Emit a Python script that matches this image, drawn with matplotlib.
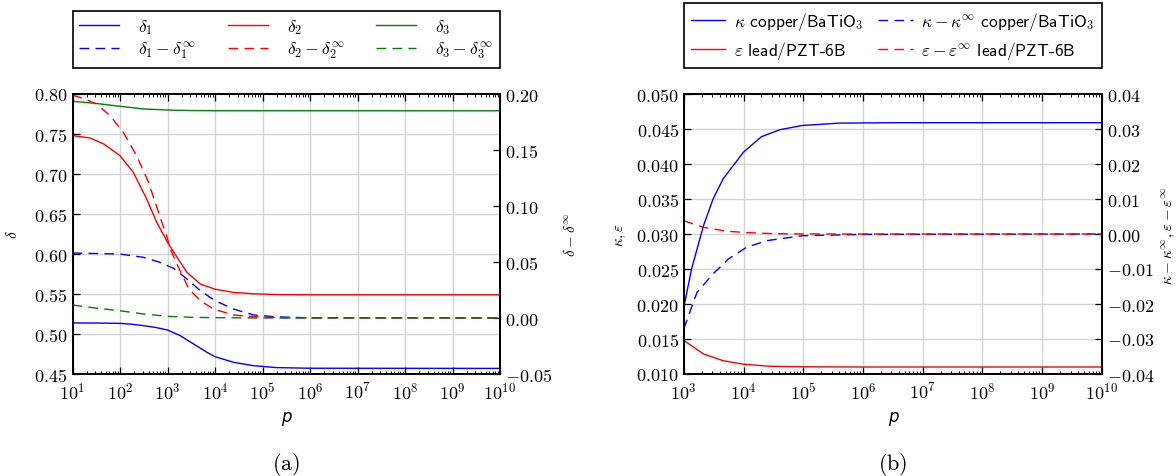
import numpy as np
import matplotlib
matplotlib.use("Agg")
import matplotlib.pyplot as plt
from matplotlib.ticker import FixedLocator, LogLocator, FuncFormatter, NullFormatter

plt.rcParams['font.family'] = ['cmss10', 'DejaVu Sans']
plt.rcParams['mathtext.fontset'] = 'cm'
plt.rcParams['axes.unicode_minus'] = True

# ---- panel (a): values read at log10(p) positions ----
lp_d1 = [1.0, 1.5, 2.0, 2.25, 2.5, 2.75, 3.0, 3.27, 3.55, 3.83, 4.0, 4.39, 4.81, 5.3, 6.0, 10.0]
d1 = [0.5138, 0.5137, 0.5133, 0.5122, 0.5104, 0.5082, 0.5050, 0.4979, 0.4875, 0.4771, 0.4717,
      0.4646, 0.4604, 0.4580, 0.4572, 0.4570]

lp_d2 = [1.0, 1.37, 1.66, 2.0, 2.28, 2.56, 2.77, 3.0, 3.2, 3.41, 3.69, 4.0, 4.39, 4.81, 5.3, 6.0, 10.0]
d2 = [0.748, 0.745, 0.7375, 0.7229, 0.702, 0.669, 0.640, 0.6146, 0.596, 0.577, 0.5625, 0.556,
      0.552, 0.5503, 0.5493, 0.549, 0.549]

lp_d3 = [1.0, 1.5, 2.0, 2.5, 3.0, 3.5, 4.0, 10.0]
d3 = [0.7909, 0.7882, 0.7846, 0.7813, 0.7800, 0.7793, 0.7791, 0.779]

lp_e1 = [1.0, 2.0, 2.49, 2.84, 3.13, 3.41, 3.69, 4.0, 4.39, 4.81, 5.3, 6.0, 10.0]
e1 = [0.058, 0.0571, 0.0542, 0.0497, 0.0443, 0.0348, 0.0244, 0.0155, 0.008, 0.0027, 0.001, 0.0002, 0.0]

lp_e2 = [1.0, 1.23, 1.51, 1.79, 2.07, 2.35, 2.6, 2.81, 2.98, 3.06, 3.23, 3.45, 3.69, 3.97, 4.39,
         4.81, 5.5, 10.0]
e2 = [0.199, 0.196, 0.191, 0.1806, 0.1658, 0.1449, 0.1211, 0.0944, 0.0735, 0.0616, 0.0453, 0.026,
      0.0155, 0.008, 0.0027, 0.0011, 0.0002, 0.0]

lp_e3 = [1.0, 1.5, 2.0, 2.49, 3.0, 3.5, 4.0, 5.0, 10.0]
e3 = [0.0116, 0.0088, 0.0065, 0.0036, 0.0015, 0.0006, 0.0003, 0.0, 0.0]

# ---- panel (b) ----
lp_kap = [3.0, 3.13, 3.33, 3.49, 3.66, 4.0, 4.3, 4.61, 4.98, 5.6, 6.5, 10.0]
kap = [0.0195, 0.025, 0.0312, 0.035, 0.0379, 0.0417, 0.0439, 0.0449, 0.0455, 0.04584, 0.0459, 0.0459]

lp_kapd = [3.0, 3.22, 3.49, 3.75, 4.05, 4.39, 4.98, 6.0, 10.0]
kapd = [-0.0271, -0.0167, -0.0114, -0.0071, -0.0038, -0.0019, -0.0005, -0.0001, 0.0]

lp_eps = [3.0, 3.33, 3.66, 4.0, 4.45, 5.0, 6.0, 10.0]
eps = [0.0148, 0.01286, 0.0119, 0.0114, 0.0111, 0.01103, 0.0110, 0.0110]

lp_epsd = [3.0, 3.33, 3.72, 4.05, 4.5, 5.0, 10.0]
epsd = [0.0038, 0.0019, 0.0008, 0.0004, 0.0001, 0.0, 0.0]


def p(lp):
    return np.power(10.0, np.array(lp))


def num_fmt(ndec):
    def f(v, _):
        v = round(v, 8)
        s = f'{abs(v):.{ndec}f}'
        return (r'$-\mathsf{%s}$' if v < 0 else r'$\mathsf{%s}$') % s
    return FuncFormatter(f)


def log_fmt(v, _):
    return r'$\mathsf{10^{%d}}$' % round(np.log10(v))


def style(ax, tw, xlo, xhi, yticks, ytw, ndec, ndec_tw):
    ax.set_xscale('log')
    ax.set_xlim(xlo, xhi)
    ax.xaxis.set_major_locator(LogLocator(base=10, numticks=20))
    ax.xaxis.set_minor_locator(LogLocator(base=10, subs=np.arange(2, 10), numticks=20))
    ax.xaxis.set_major_formatter(FuncFormatter(log_fmt))
    ax.xaxis.set_minor_formatter(NullFormatter())
    ax.set_ylim(yticks[0], yticks[-1])
    ax.yaxis.set_major_locator(FixedLocator(yticks))
    ax.yaxis.set_major_formatter(num_fmt(ndec))
    tw.set_ylim(ytw[0], ytw[-1])
    tw.yaxis.set_major_locator(FixedLocator(ytw))
    tw.yaxis.set_major_formatter(num_fmt(ndec_tw))
    ax.grid(True, which='major', color='#d4d4d4', lw=1.0, ls='-')
    ax.set_axisbelow(True)
    ax.tick_params(axis='x', which='both', direction='in', top=True, bottom=True, labelsize=13, pad=5)
    ax.tick_params(axis='x', which='major', length=5, width=0.9)
    ax.tick_params(axis='x', which='minor', length=2.5, width=0.7)
    ax.tick_params(axis='y', direction='in', left=True, right=False, length=5, width=0.9, labelsize=13)
    tw.tick_params(axis='y', direction='in', right=True, left=False, length=5, width=0.9, labelsize=13)
    for a in (ax, tw):
        for s in a.spines.values():
            s.set_linewidth(1.3)
    ax.set_xlabel('p', fontsize=12, family='DejaVu Sans', style='italic', labelpad=4)


fig = plt.figure(figsize=(11.76, 4.77), dpi=100)
ax1 = fig.add_axes([72.5 / 1176, 102 / 477, 427.5 / 1176, 280 / 477])
ax2 = fig.add_axes([683.8 / 1176, 102 / 477, 418 / 1176, 280 / 477])
tw1 = ax1.twinx()
tw2 = ax2.twinx()

lw = 1.0
dash = (7, 4.5)

# panel (a)
h_d1, = ax1.plot(p(lp_d1), d1, color='b', lw=lw)
h_d2, = ax1.plot(p(lp_d2), d2, color='r', lw=lw)
h_d3, = ax1.plot(p(lp_d3), d3, color='g', lw=lw)
h_e1, = tw1.plot(p(lp_e1), e1, color='b', lw=lw, ls='--', dashes=dash)
h_e2, = tw1.plot(p(lp_e2), e2, color='r', lw=lw, ls='--', dashes=dash)
h_e3, = tw1.plot(p(lp_e3), e3, color='g', lw=lw, ls='--', dashes=dash)

style(ax1, tw1, 1e1, 1e10, [0.45, 0.50, 0.55, 0.60, 0.65, 0.70, 0.75, 0.80],
      [-0.05, 0.0, 0.05, 0.10, 0.15, 0.20], 2, 2)
ax1.set_ylabel(r'$\delta$', fontsize=11, labelpad=10)
tw1.set_ylabel(r'$\delta-\delta^\infty$', fontsize=11, labelpad=8)

ax1.legend([h_d1, h_e1, h_d2, h_e2, h_d3, h_e3],
           [r'$\delta_1$', r'$\delta_1-\delta_1^\infty$', r'$\delta_2$', r'$\delta_2-\delta_2^\infty$',
            r'$\delta_3$', r'$\delta_3-\delta_3^\infty$'],
           loc='lower left', bbox_to_anchor=(0, 1.093, 1, 0.2), mode='expand', ncol=3,
           borderaxespad=0, fancybox=False, edgecolor='black', framealpha=1, fontsize=12.5,
           handlelength=2.3, handletextpad=1.1, labelspacing=0.2, borderpad=0.4)
ax1.get_legend().get_frame().set_linewidth(1.2)

# panel (b)
h_k, = ax2.plot(p(lp_kap), kap, color='b', lw=lw)
h_e, = ax2.plot(p(lp_eps), eps, color='r', lw=lw)
h_kd, = tw2.plot(p(lp_kapd), kapd, color='b', lw=lw, ls='--', dashes=dash)
h_ed, = tw2.plot(p(lp_epsd), epsd, color='r', lw=lw, ls='--', dashes=dash)

style(ax2, tw2, 1e3, 1e10, [0.010, 0.015, 0.020, 0.025, 0.030, 0.035, 0.040, 0.045, 0.050],
      [-0.04, -0.03, -0.02, -0.01, 0.0, 0.01, 0.02, 0.03, 0.04], 3, 2)
ax2.set_ylabel(r'$\kappa,\varepsilon$', fontsize=11, labelpad=6)
tw2.set_ylabel(r'$\kappa-\kappa^\infty,\varepsilon-\varepsilon^\infty$', fontsize=11, labelpad=4)

ax2.legend([h_k, h_e, h_kd, h_ed],
           [r'$\kappa$ copper/BaTiO$_\mathsf{3}$', r'$\varepsilon$ lead/PZT-6B',
            r'$\kappa-\kappa^\infty$ copper/BaTiO$_\mathsf{3}$', r'$\varepsilon-\varepsilon^\infty$ lead/PZT-6B'],
           loc='lower left', bbox_to_anchor=(0, 1.093, 1, 0.2), mode='expand', ncol=2,
           borderaxespad=0, fancybox=False, edgecolor='black', framealpha=1, fontsize=12.5,
           handlelength=2.0, handletextpad=0.5, labelspacing=0.4, columnspacing=1.0, borderpad=0.4)
ax2.get_legend().get_frame().set_linewidth(1.2)

for ax, lab in ((ax1, 'a'), (ax2, 'b')):
    pos = ax.get_position()
    fig.text((pos.x0 + pos.x1) / 2, 12 / 477, r'$(\mathrm{%s})$' % lab, ha='center', va='center', fontsize=16)

fig.savefig('out.png', dpi=100)
